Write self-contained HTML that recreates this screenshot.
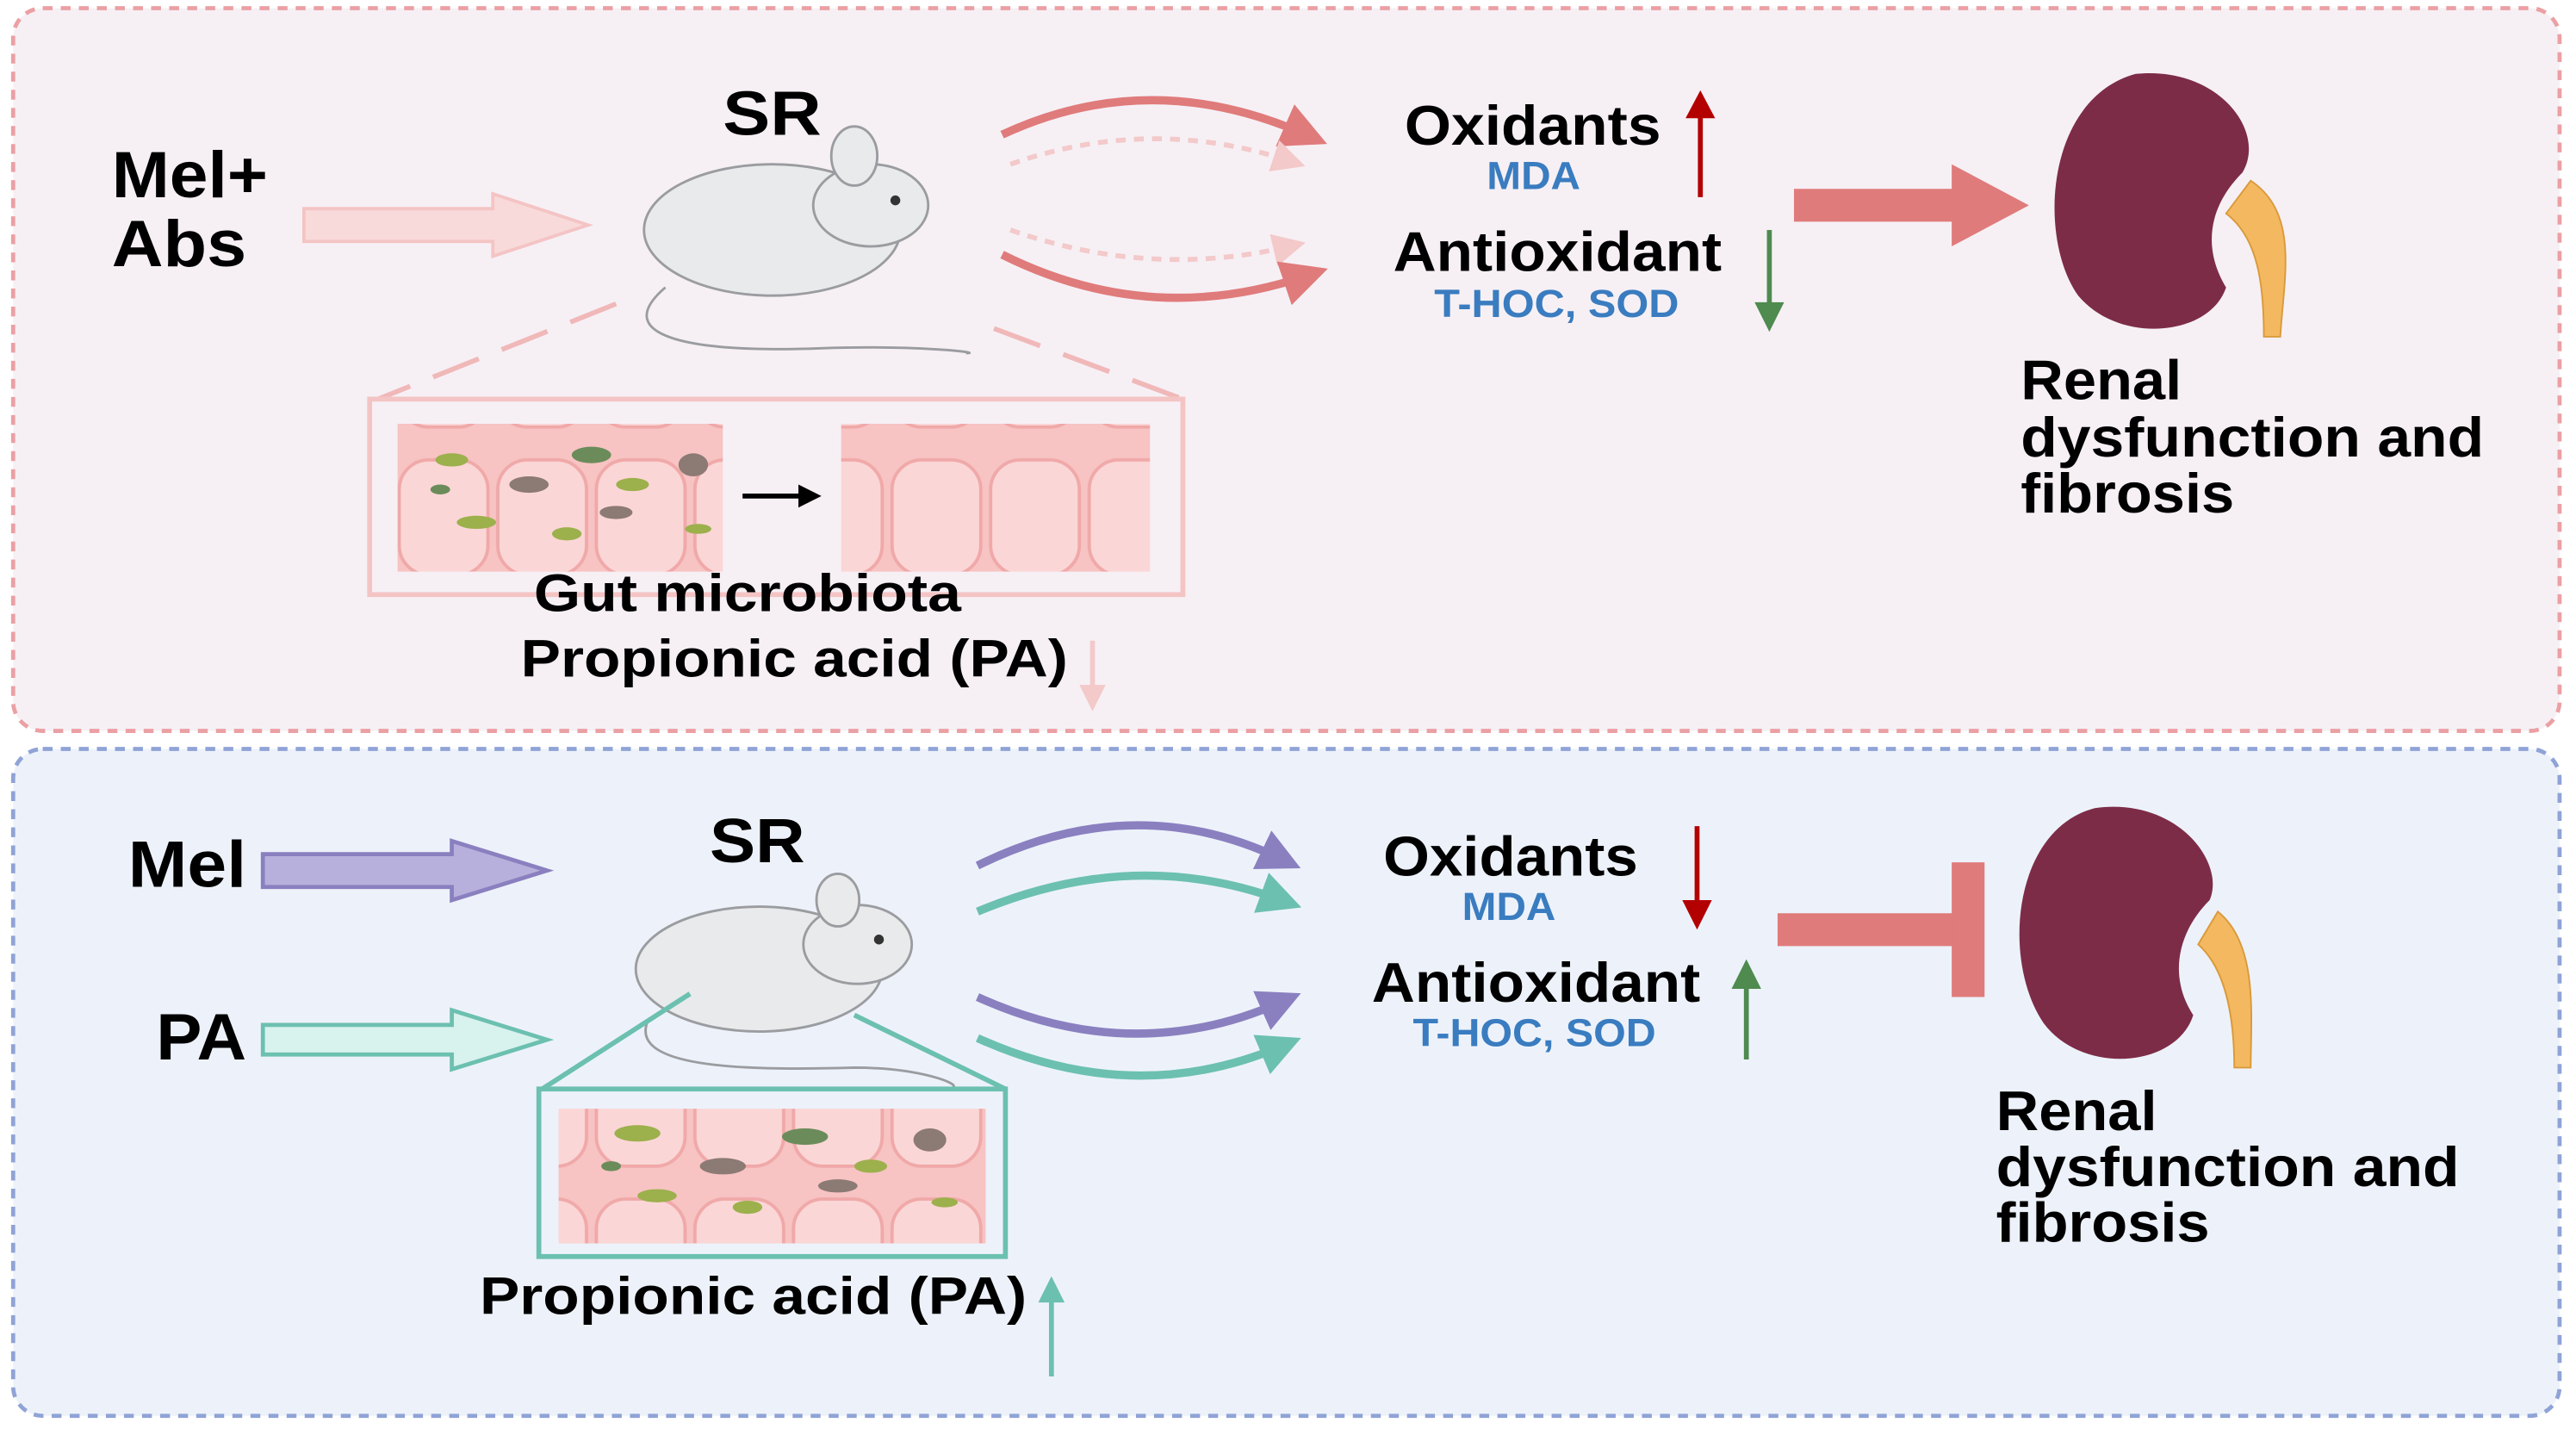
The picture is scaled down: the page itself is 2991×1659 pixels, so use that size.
<!DOCTYPE html>
<html><head><meta charset="utf-8"><style>
html,body{margin:0;padding:0;background:#fff;}
svg{display:block;}
text{font-family:"Liberation Sans",Arial,sans-serif;font-weight:bold;}
</style></head><body>
<svg width="2991" height="1659" viewBox="0 0 1568 870" preserveAspectRatio="none" xmlns="http://www.w3.org/2000/svg">
<defs>
<marker id="hrl" markerWidth="20" markerHeight="20" refX="10" refY="10" orient="auto" markerUnits="userSpaceOnUse"><path d="M0,0 L20,10 L0,20z" fill="#f3c9c9"/></marker>
<marker id="hrb" markerWidth="28" markerHeight="28" refX="14" refY="14" orient="auto" markerUnits="userSpaceOnUse"><path d="M0,0 L28,14 L0,28z" fill="#e07b7b"/></marker>
<marker id="hp" markerWidth="26" markerHeight="26" refX="13" refY="13" orient="auto" markerUnits="userSpaceOnUse"><path d="M0,0 L26,13 L0,26z" fill="#8a80c0"/></marker>
<marker id="ht" markerWidth="26" markerHeight="26" refX="13" refY="13" orient="auto" markerUnits="userSpaceOnUse"><path d="M0,0 L26,13 L0,26z" fill="#6cc0b0"/></marker>
<pattern id="gut" width="60" height="90" patternUnits="userSpaceOnUse">
<rect width="60" height="90" fill="#f7c3c3"/>
<rect x="3" y="10" width="54" height="70" rx="18" fill="#fbd6d6" stroke="#f0a8a8" stroke-width="2"/>
</pattern>
</defs>
<rect x="8" y="5" width="1550" height="440" rx="18" fill="#f6f0f5" stroke="#eba0a4" stroke-width="2.5" stroke-dasharray="6,5"/>
<rect x="8" y="456" width="1550" height="406" rx="18" fill="#edf2fa" stroke="#8fa3d6" stroke-width="2.5" stroke-dasharray="6,5"/>

<!-- TOP -->
<text x="68" y="120" font-size="40" textLength="95" lengthAdjust="spacingAndGlyphs">Mel+</text>
<text x="68" y="162" font-size="40" textLength="82" lengthAdjust="spacingAndGlyphs">Abs</text>
<path d="M185,127 L300,127 L300,118 L358,137 L300,156 L300,147 L185,147z" fill="#f9dada" stroke="#f4c4c4" stroke-width="2"/>
<text x="440" y="82" font-size="38" textLength="60" lengthAdjust="spacingAndGlyphs">SR</text>
<g fill="#e9eaec" stroke="#9a9ca0" stroke-width="1.5">
<path d="M405,175 C370,205 420,215 500,212 C560,210 600,215 588,215" fill="none"/>
<ellipse cx="470" cy="140" rx="78" ry="40"/>
<ellipse cx="530" cy="125" rx="35" ry="25"/>
<ellipse cx="520" cy="95" rx="14" ry="18"/>
</g>
<circle cx="545" cy="122" r="3" fill="#333"/>
<path d="M375,185 L230,243" stroke="#f0b8b8" stroke-width="3" stroke-dasharray="30,15" fill="none"/>
<path d="M605,200 L720,243" stroke="#f0b8b8" stroke-width="3" stroke-dasharray="30,15" fill="none"/>
<path d="M610,82 Q700,40 795,82" stroke="#e07b7b" stroke-width="5" fill="none" marker-end="url(#hrb)"/>
<path d="M615,100 Q700,70 785,98" stroke="#f3c9c9" stroke-width="3" stroke-dasharray="6,5" fill="none" marker-end="url(#hrl)"/>
<path d="M615,140 Q700,170 785,150" stroke="#f3c9c9" stroke-width="3" stroke-dasharray="6,5" fill="none" marker-end="url(#hrl)"/>
<path d="M610,155 Q700,200 795,168" stroke="#e07b7b" stroke-width="5" fill="none" marker-end="url(#hrb)"/>
<text x="855" y="88" font-size="34" textLength="156" lengthAdjust="spacingAndGlyphs">Oxidants</text>
<text x="905" y="115" font-size="24" fill="#3a7cc0" textLength="57" lengthAdjust="spacingAndGlyphs">MDA</text>
<path d="M1035,120 L1035,68" stroke="#b30000" stroke-width="3"/><path d="M1026,72 L1035,55 L1044,72z" fill="#b30000"/>
<text x="848" y="165" font-size="34" textLength="200" lengthAdjust="spacingAndGlyphs">Antioxidant</text>
<text x="873" y="193" font-size="24" fill="#3a7cc0" textLength="149" lengthAdjust="spacingAndGlyphs">T-HOC, SOD</text>
<path d="M1077,140 L1077,188" stroke="#4f8a4f" stroke-width="3"/><path d="M1068,184 L1077,202 L1086,184z" fill="#4f8a4f"/>
<path d="M1092,115 L1188,115 L1188,100 L1235,125 L1188,150 L1188,135 L1092,135z" fill="#e07b7b"/>
<path d="M1370,110 C1400,130 1390,170 1388,205 L1378,205 C1378,175 1375,145 1355,130z" fill="#f4b860" stroke="#d99a3c"/>
<path d="M1300,45 C1350,40 1380,80 1365,105 C1345,125 1340,150 1355,175 C1345,205 1290,210 1265,180 C1240,145 1245,60 1300,45z" fill="#7d2c47"/>
<text x="1230" y="243" font-size="34" textLength="98" lengthAdjust="spacingAndGlyphs">Renal</text>
<text x="1230" y="278" font-size="34" textLength="282" lengthAdjust="spacingAndGlyphs">dysfunction and</text>
<text x="1230" y="312" font-size="34" textLength="130" lengthAdjust="spacingAndGlyphs">fibrosis</text>
<rect x="225" y="243" width="495" height="119" fill="none" stroke="#f4c4c4" stroke-width="3"/>
<rect x="242" y="258" width="198" height="90" fill="url(#gut)"/>
<rect x="512" y="258" width="188" height="90" fill="url(#gut)"/>
<g fill="#9cb04c"><ellipse cx="275" cy="280" rx="10" ry="4"/><ellipse cx="290" cy="318" rx="12" ry="4"/><ellipse cx="345" cy="325" rx="9" ry="4"/><ellipse cx="385" cy="295" rx="10" ry="4"/><ellipse cx="425" cy="322" rx="8" ry="3"/></g>
<g fill="#6b8c5a"><ellipse cx="360" cy="277" rx="12" ry="5"/><ellipse cx="268" cy="298" rx="6" ry="3"/></g>
<g fill="#8c7a74"><ellipse cx="322" cy="295" rx="12" ry="5"/><ellipse cx="375" cy="312" rx="10" ry="4"/><ellipse cx="422" cy="283" rx="9" ry="7"/></g>
<path d="M452,302 L488,302" stroke="#000" stroke-width="3"/><path d="M486,295 L500,302 L486,309z" fill="#000"/>
<text x="325" y="372" font-size="32" textLength="260" lengthAdjust="spacingAndGlyphs">Gut microbiota</text>
<text x="317" y="412" font-size="32" textLength="333" lengthAdjust="spacingAndGlyphs">Propionic acid (PA)</text>
<path d="M665,390 L665,420" stroke="#f3c9c9" stroke-width="3"/><path d="M657,417 L665,433 L673,417z" fill="#f3c9c9"/>

<!-- BOTTOM -->
<text x="78" y="540" font-size="40" textLength="72" lengthAdjust="spacingAndGlyphs">Mel</text>
<path d="M160,520 L275,520 L275,512 L333,530 L275,548 L275,540 L160,540z" fill="#b8b0dc" stroke="#8a80c0" stroke-width="2.5"/>
<text x="95" y="645" font-size="40" textLength="55" lengthAdjust="spacingAndGlyphs">PA</text>
<path d="M160,624 L275,624 L275,615 L333,633 L275,651 L275,642 L160,642z" fill="#d8f2ee" stroke="#6cc0b0" stroke-width="2.5"/>
<text x="432" y="525" font-size="38" textLength="58" lengthAdjust="spacingAndGlyphs">SR</text>
<g fill="#e9eaec" stroke="#9a9ca0" stroke-width="1.5">
<path d="M395,620 C380,650 450,652 520,650 C560,650 585,660 580,662" fill="none"/>
<ellipse cx="462" cy="590" rx="75" ry="38"/>
<ellipse cx="522" cy="575" rx="33" ry="24"/>
<ellipse cx="510" cy="548" rx="13" ry="16"/>
</g>
<circle cx="535" cy="572" r="3" fill="#333"/>
<path d="M420,605 L330,663" stroke="#6cc0b0" stroke-width="3" fill="none"/>
<path d="M520,618 L612,663" stroke="#6cc0b0" stroke-width="3" fill="none"/>
<path d="M595,527 Q690,480 780,523" stroke="#8a80c0" stroke-width="5" fill="none" marker-end="url(#hp)"/>
<path d="M595,555 Q690,515 780,548" stroke="#6cc0b0" stroke-width="5" fill="none" marker-end="url(#ht)"/>
<path d="M595,607 Q690,650 780,610" stroke="#8a80c0" stroke-width="5" fill="none" marker-end="url(#hp)"/>
<path d="M595,632 Q690,675 780,637" stroke="#6cc0b0" stroke-width="5" fill="none" marker-end="url(#ht)"/>
<text x="842" y="533" font-size="34" textLength="155" lengthAdjust="spacingAndGlyphs">Oxidants</text>
<text x="890" y="560" font-size="24" fill="#3a7cc0" textLength="57" lengthAdjust="spacingAndGlyphs">MDA</text>
<path d="M1033,503 L1033,552" stroke="#b30000" stroke-width="3"/><path d="M1024,548 L1033,566 L1042,548z" fill="#b30000"/>
<text x="835" y="610" font-size="34" textLength="200" lengthAdjust="spacingAndGlyphs">Antioxidant</text>
<text x="860" y="637" font-size="24" fill="#3a7cc0" textLength="148" lengthAdjust="spacingAndGlyphs">T-HOC, SOD</text>
<path d="M1063,645 L1063,598" stroke="#4f8a4f" stroke-width="3"/><path d="M1054,602 L1063,584 L1072,602z" fill="#4f8a4f"/>
<rect x="1082" y="556" width="110" height="20" fill="#e07b7b"/>
<rect x="1188" y="525" width="20" height="82" fill="#e07b7b"/>
<path d="M1350,555 C1375,575 1370,620 1370,650 L1360,650 C1360,620 1355,590 1338,575z" fill="#f4b860" stroke="#d99a3c"/>
<path d="M1275,492 C1325,485 1355,525 1345,548 C1325,568 1320,595 1335,618 C1325,650 1268,655 1244,623 C1218,585 1225,505 1275,492z" fill="#7d2c47"/>
<text x="1215" y="688" font-size="34" textLength="98" lengthAdjust="spacingAndGlyphs">Renal</text>
<text x="1215" y="722" font-size="34" textLength="282" lengthAdjust="spacingAndGlyphs">dysfunction and</text>
<text x="1215" y="756" font-size="34" textLength="130" lengthAdjust="spacingAndGlyphs">fibrosis</text>
<rect x="328" y="663" width="284" height="102" fill="none" stroke="#6cc0b0" stroke-width="3"/>
<rect x="340" y="675" width="260" height="82" fill="url(#gut)"/>
<g fill="#9cb04c"><ellipse cx="388" cy="690" rx="14" ry="5"/><ellipse cx="400" cy="728" rx="12" ry="4"/><ellipse cx="455" cy="735" rx="9" ry="4"/><ellipse cx="530" cy="710" rx="10" ry="4"/><ellipse cx="575" cy="732" rx="8" ry="3"/></g>
<g fill="#6b8c5a"><ellipse cx="490" cy="692" rx="14" ry="5"/><ellipse cx="372" cy="710" rx="6" ry="3"/></g>
<g fill="#8c7a74"><ellipse cx="440" cy="710" rx="14" ry="5"/><ellipse cx="510" cy="722" rx="12" ry="4"/><ellipse cx="566" cy="694" rx="10" ry="7"/></g>
<text x="292" y="800" font-size="32" textLength="333" lengthAdjust="spacingAndGlyphs">Propionic acid (PA)</text>
<path d="M640,838 L640,790" stroke="#6cc0b0" stroke-width="3"/><path d="M632,793 L640,777 L648,793z" fill="#6cc0b0"/>
</svg>
</body></html>
